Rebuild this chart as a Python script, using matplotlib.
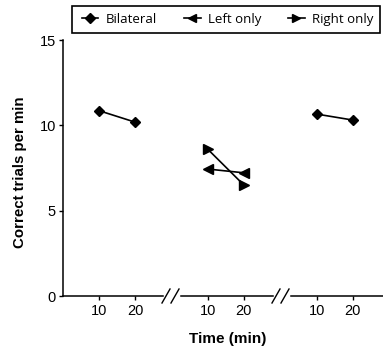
import matplotlib
matplotlib.use("Agg")
import matplotlib.pyplot as plt
from matplotlib.lines import Line2D
from matplotlib.patches import Rectangle

# ---- data ----
times = [10, 20]
tick_labels = ["10", "20"]
yticks = [0, 5, 10, 15]
series_names = ["Bilateral", "Left only", "Right only"]
bilateral_p1 = [10.86, 10.19]
left_only_p2 = [7.44, 7.22]
right_only_p2 = [8.61, 6.52]
bilateral_p3 = [10.66, 10.31]

W, H = 383, 352
fig = plt.figure(figsize=(W / 100, H / 100), dpi=100)

arial = "Liberation Sans"
ybot, ytop = 296, 40

def px_axes(left, right):
    return fig.add_axes([left / W, (H - ybot) / H, (right - left) / W, (ybot - ytop) / H])

panels = [
    (px_axes(63, 163), (0, 27.8)),
    (px_axes(181, 273), (2.6, 28.2)),
    (px_axes(291, 383), (2.9, 28.4)),
]

line_kw = dict(color="black", lw=1.2)
ax1, ax2, ax3 = [p[0] for p in panels]
ax1.plot(times, bilateral_p1, marker="D", ms=5.5, **line_kw)
ax2.plot(times, left_only_p2, marker="<", ms=6.5, **line_kw)
ax2.plot(times, right_only_p2, marker=">", ms=6.5, **line_kw)
ax3.plot(times, bilateral_p3, marker="D", ms=5.5, **line_kw)

for i, (ax, xl) in enumerate(panels):
    ax.set_xlim(*xl)
    ax.set_ylim(0, 15)
    ax.set_xticks(times)
    ax.set_xticklabels(tick_labels, fontfamily=arial, fontsize=10.5)
    for s in ["top", "right"]:
        ax.spines[s].set_visible(False)
    ax.spines["bottom"].set_linewidth(1.1)
    ax.tick_params(axis="x", direction="out", length=3, width=1, pad=3)
    ax.patch.set_alpha(0)
    if i == 0:
        ax.set_yticks(yticks)
        ax.set_yticklabels([str(v) for v in yticks], fontfamily=arial, fontsize=10.5)
        ax.tick_params(axis="y", direction="out", length=3, width=1, pad=2)
        ax.spines["left"].set_linewidth(1.1)
    else:
        ax.spines["left"].set_visible(False)
        ax.set_yticks([])

# break marks
for xb in (163, 273):
    for dx in (0, 9):
        x0 = xb + dx
        fig.add_artist(Line2D([(x0 - 1) / W, (x0 + 7) / W],
                              [(H - 303) / H, (H - 289) / H],
                              color="black", lw=1.0, transform=fig.transFigure))

# labels
fig.text(228 / W, (H - 339) / H, "Time (min)", ha="center", va="center",
         fontfamily=arial, fontweight="bold", fontsize=11)
fig.text(20 / W, (H - 172) / H, "Correct trials per min", ha="center", va="center",
         rotation=90, fontfamily=arial, fontweight="bold", fontsize=10.8)

# legend (frame drawn separately)
fig.add_artist(Rectangle((72 / W, (H - 33) / H), (380 - 72) / W, 27 / H,
                         transform=fig.transFigure, fill=False,
                         edgecolor="black", lw=1.2))
handles = [
    Line2D([], [], color="black", lw=1.2, marker="D", ms=5),
    Line2D([], [], color="black", lw=1.2, marker="<", ms=6),
    Line2D([], [], color="black", lw=1.2, marker=">", ms=6),
]
leg = fig.legend(handles, series_names, loc="center left",
                 bbox_to_anchor=(82 / W, (H - 19.5) / H),
                 ncol=3, frameon=False, borderpad=0, borderaxespad=0,
                 handlelength=1.25, handletextpad=0.55, columnspacing=2.05,
                 prop={"family": "Open Sans", "size": 9.5})

fig.savefig("out.png", dpi=100)
